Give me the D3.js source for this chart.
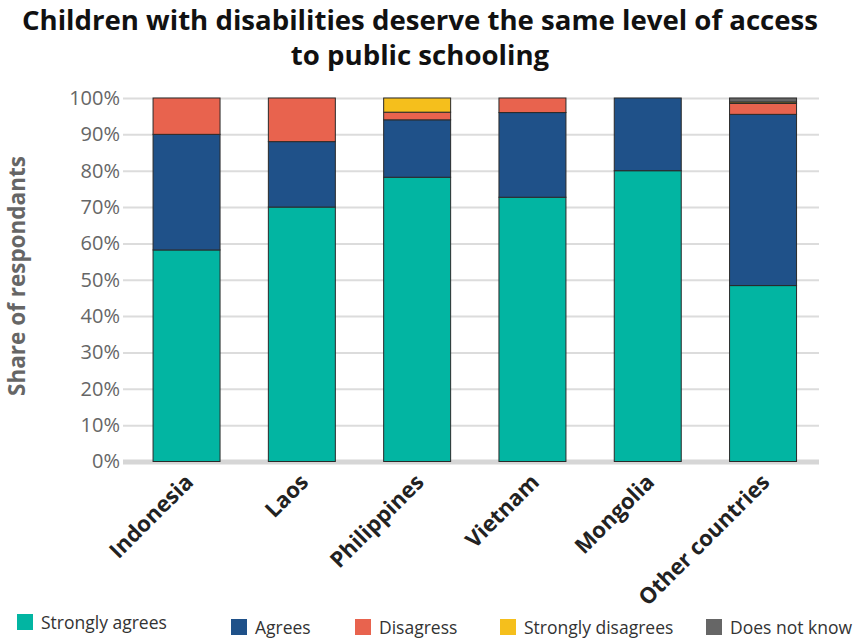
<!DOCTYPE html>
<html>
  <head>
    <title>Access to public schooling</title>
    <style>
      body,
      html {
        margin: 0;
        padding: 0;
        background: #fff;
      }
      svg {
        display: block;
        font-family: 'Open Sans', sans-serif;
      }
    </style>
  </head>
  <body>
    <svg id="svg" width="856" height="639"></svg>

    <script src="https://cdn.jsdelivr.net/npm/d3@7"></script>
    <script>
      const countries = ['Indonesia', 'Laos', 'Philippines', 'Vietnam', 'Mongolia', 'Other countries'];
      const answers = ['Strongly agrees', 'Agrees', 'Disagress', 'Strongly disagrees', 'Does not know'];
      const stronglyAgrees = [58.2, 70, 78.2, 72.7, 80, 48.4];
      const agrees = [31.8, 18, 15.8, 23.3, 20, 47.1];
      const disagrees = [10, 12, 2.1, 4, 0, 3.0];
      const stronglyDisagrees = [0, 0, 3.9, 0, 0, 0.4];
      const doesNotKnow = [0, 0, 0, 0, 0, 1.1];
      const yTicks = [0, 10, 20, 30, 40, 50, 60, 70, 80, 90, 100];
      const colors = ['#02b5a2', '#1f5189', '#e8634e', '#f5bf1c', '#666666'];

      const series = [stronglyAgrees, agrees, disagrees, stronglyDisagrees, doesNotKnow];
      const rows = countries.map((c, i) => {
        const row = { country: c };
        answers.forEach((a, j) => (row[a] = series[j][i]));
        return row;
      });
      const stacked = d3.stack().keys(answers)(rows);

      const svg = d3.select('#svg');

      const xScale = d3
        .scaleBand()
        .domain(countries)
        .range([95.4, 854.2])
        .paddingInner(0.419)
        .paddingOuter(0.5);
      const yScale = d3.scaleLinear().domain([0, 100]).range([461.5, 98]);
      const color = d3.scaleOrdinal().domain(answers).range(colors);

      // title
      const title = svg
        .append('text')
        .attr('text-anchor', 'middle')
        .attr('font-weight', 700)
        .attr('font-size', 27.6)
        .attr('fill', '#111');
      title.append('tspan').attr('x', 420).attr('y', 30).text('Children with disabilities deserve the same level of access');
      title.append('tspan').attr('x', 420).attr('y', 64.5).text('to public schooling');

      // grid + y labels
      const leftAxis = d3
        .axisLeft(yScale)
        .tickValues(yTicks)
        .tickFormat((d) => d + '%')
        .tickSize(-(819 - 123))
        .tickPadding(3);
      const yAxis = svg.append('g').attr('transform', 'translate(123, 0)').call(leftAxis);
      yAxis.select('.domain').remove();
      yAxis.selectAll('.tick line').attr('stroke', '#dcdcdc').attr('stroke-width', 2);
      yAxis
        .selectAll('.tick text')
        .attr('fill', '#666')
        .attr('font-size', 20)
        .attr('font-family', "'Open Sans', sans-serif");
      yAxis
        .selectAll('.tick')
        .filter((d) => d === 0)
        .select('line')
        .attr('stroke', '#d6d6d6')
        .attr('stroke-width', 5);

      svg
        .append('text')
        .attr('transform', 'translate(25, 276) rotate(-90)')
        .attr('text-anchor', 'middle')
        .attr('font-weight', 700)
        .attr('font-size', 22.5)
        .attr('fill', '#666')
        .text('Share of respondants');

      // bars
      svg
        .append('g')
        .selectAll('g')
        .data(stacked)
        .join('g')
        .attr('fill', (d) => color(d.key))
        .selectAll('rect')
        .data((d) => d.filter((s) => s[1] - s[0] > 0))
        .join('rect')
        .attr('x', (d) => xScale(d.data.country))
        .attr('width', xScale.bandwidth())
        .attr('y', (d) => yScale(d[1]))
        .attr('height', (d) => yScale(d[0]) - yScale(d[1]))
        .attr('stroke', '#2a2a2a')
        .attr('stroke-width', 1);

      // x labels
      const bottomAxis = d3.axisBottom(xScale).tickSize(0).tickPadding(0);
      const xAxis = svg.append('g').attr('transform', 'translate(0, 461.5)').call(bottomAxis);
      xAxis.select('.domain').remove();
      xAxis
        .selectAll('.tick text')
        .attr('text-anchor', 'end')
        .attr('font-size', 22)
        .attr('font-weight', 700)
        .attr('fill', '#222')
        .attr('font-family', "'Open Sans', sans-serif")
        .attr('dy', 0)
        .attr('transform', 'translate(8, 22) rotate(-45)');

      // legend
      const legendX = [17, 231, 355, 500, 706];
      const legendY = [614, 619, 619, 619, 619];
      const legend = svg
        .append('g')
        .selectAll('g')
        .data(answers)
        .join('g')
        .attr('transform', (d, i) => `translate(${legendX[i]}, ${legendY[i]})`);
      legend
        .append('rect')
        .attr('width', 16)
        .attr('height', 16)
        .attr('fill', (d) => color(d));
      legend
        .append('text')
        .attr('x', 24)
        .attr('y', 15)
        .attr('font-size', 17.5)
        .attr('fill', '#333')
        .text((d) => d);
    </script>
  </body>
</html>
